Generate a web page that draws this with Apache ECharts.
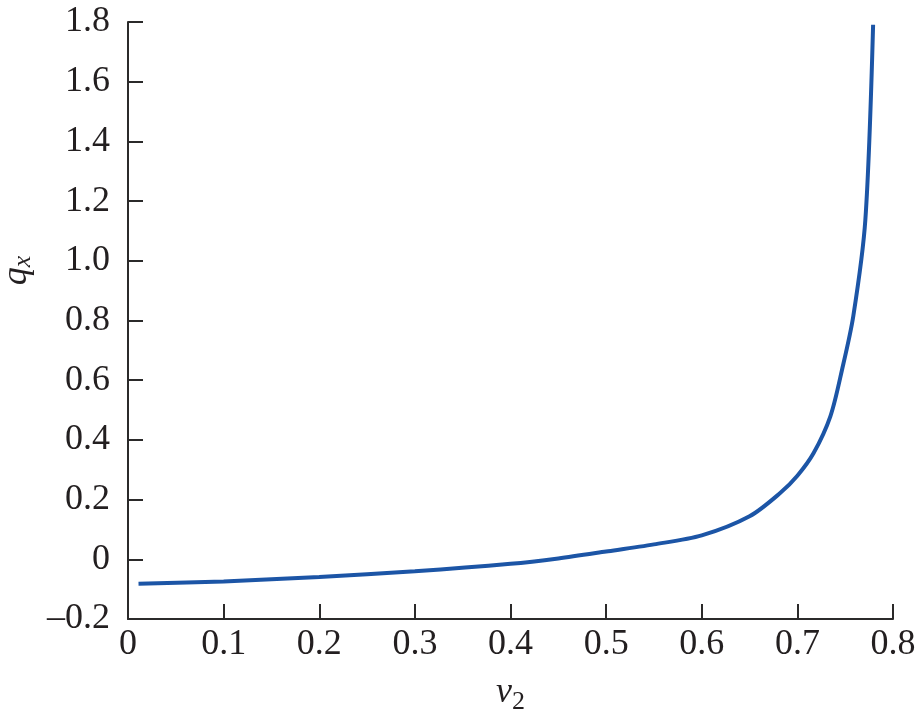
<!DOCTYPE html>
<html>
<head>
<meta charset="utf-8">
<script src="https://cdn.jsdelivr.net/npm/echarts@6/dist/echarts.min.js"></script>
<style>html,body{margin:0;padding:0;background:#fff;}#c{width:917px;height:714px;}</style>
</head>
<body>
<div id="c"></div>
<script>
const v2Values = [0.011, 0.1, 0.2, 0.3, 0.4, 0.45, 0.5, 0.55, 0.6, 0.65, 0.682, 0.7, 0.717, 0.7345, 0.7467, 0.7585, 0.7711, 0.7792];
const qxValues = [-0.082, -0.074, -0.059, -0.040, -0.015, 0.003, 0.026, 0.050, 0.080, 0.144, 0.222, 0.28, 0.356, 0.479, 0.635, 0.815, 1.138, 1.791];
const xTicks = [0, 0.1, 0.2, 0.3, 0.4, 0.5, 0.6, 0.7, 0.8];
const yTicks = [-0.2, 0, 0.2, 0.4, 0.6, 0.8, 1.0, 1.2, 1.4, 1.6, 1.8];

const chart = echarts.init(document.getElementById('c'), null, {renderer: 'canvas'});
const font = '"Liberation Serif", "Times New Roman", Times, serif';
const axisColor = '#2b2a2a';
const textColor = '#231f20';
const fmt = v => {
  const r = Math.round(v * 10) / 10;
  if (r === 0) return '0';
  return (r < 0 ? '\u2013' : '') + Math.abs(r).toFixed(1);
};

chart.setOption({
  animation: false,
  backgroundColor: '#fff',
  grid: {left: 128, right: 24, top: 22, bottom: 95, containLabel: false, outerBoundsMode: 'none'},
  xAxis: {
    type: 'value', min: xTicks[0], max: xTicks[xTicks.length - 1], interval: 0.1,
    name: '{v|v}{s|2}', nameLocation: 'middle', nameGap: 52,
    nameTextStyle: {rich: {
      v: {fontFamily: font, fontStyle: 'italic', fontSize: 36, color: textColor},
      s: {fontFamily: font, fontSize: 26, color: textColor, padding: [18, 0, 0, 0]}
    }},
    axisLine: {show: true, onZero: false, lineStyle: {color: axisColor, width: 2}},
    axisTick: {show: true, inside: true, length: 15, lineStyle: {color: axisColor, width: 2}},
    axisLabel: {fontFamily: font, fontSize: 36, color: textColor, margin: 8, formatter: fmt},
    splitLine: {show: false}
  },
  yAxis: {
    type: 'value', min: yTicks[0], max: yTicks[yTicks.length - 1], interval: 0.2,
    name: '{q|q}{s|x}', nameLocation: 'middle', nameGap: 88, nameRotate: 90,
    nameTextStyle: {padding: [0, 0, 0, 100], rich: {
      q: {fontFamily: font, fontStyle: 'italic', fontSize: 36, color: textColor},
      s: {fontFamily: font, fontStyle: 'italic', fontSize: 26, color: textColor, padding: [14, 0, 0, 0]}
    }},
    axisLine: {show: true, onZero: false, lineStyle: {color: axisColor, width: 2}},
    axisTick: {show: true, inside: true, length: 15, lineStyle: {color: axisColor, width: 2}},
    axisLabel: {fontFamily: font, fontSize: 36, color: textColor, margin: 18, formatter: fmt},
    splitLine: {show: false}
  },
  series: [{
    type: 'line',
    data: v2Values.map((v, i) => [v, qxValues[i]]),
    showSymbol: false,
    smooth: 0.3,
    lineStyle: {color: '#1c55a6', width: 4},
    itemStyle: {color: '#1c55a6'}
  }]
});
</script>
</body>
</html>
